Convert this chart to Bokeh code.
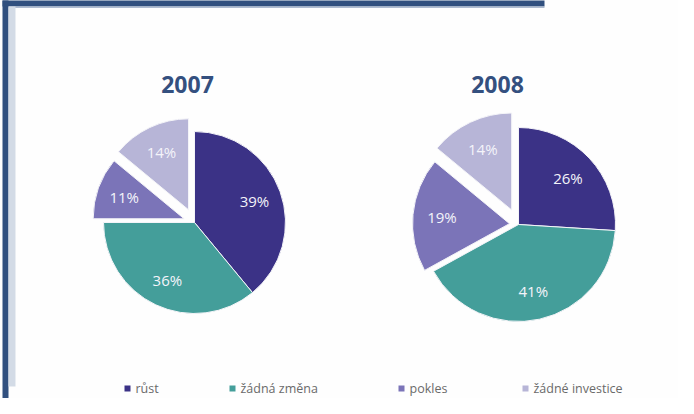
import numpy as np
from bokeh.plotting import figure
from bokeh.models import Range1d, ColumnDataSource
from bokeh.embed import file_html
from bokeh.resources import INLINE
from bokeh.core.properties import value

# ---- data ----
years = ["2007", "2008"]
categories = ["růst", "žádná změna", "pokles", "žádné investice"]
shares_2007 = [39, 36, 11, 14]
shares_2008 = [26, 41, 19, 14]
colors = ["#3b3286", "#449e9a", "#7b74b8", "#b7b5d7"]

# ---- layout (reference pixel coordinates) ----
W, H = 678, 398
pie_centers = [(202, 230), (526, 232)]
pie_radii = [91, 97]
pie_explode = [[0, 0, 11, 14], [0, 0, 9, 16]]
title_x = [195, 505]
title_y = 92
legend_x = [135, 240, 409, 533]
legend_y = 396
DARK = "#31507f"
LIGHT = "#d3dbe6"


def Y(y):
    return 414 - y


p = figure(width=W, height=H, x_range=Range1d(8, 8 + W), y_range=Range1d(8, 8 + H),
           output_backend="svg", toolbar_location=None, min_border=0)
p.axis.visible = False
p.grid.visible = False
p.outline_line_color = None
p.background_fill_color = "#fefefe"
p.border_fill_color = "#fefefe"

# frame decoration
p.quad(left=[10], right=[552], bottom=[Y(14)], top=[Y(7)], fill_color=DARK, line_color=None)
p.quad(left=[16], right=[552], bottom=[Y(15.5)], top=[Y(14)], fill_color="#aebbd0", line_color=None)
p.quad(left=[10], right=[16], bottom=[Y(414)], top=[Y(7)], fill_color=DARK, line_color=None)
p.quad(left=[16], right=[23], bottom=[Y(394)], top=[Y(14)], fill_color=LIGHT, line_color=None)

for k, shares in enumerate([shares_2007, shares_2008]):
    cx, cy = pie_centers[k]
    r = pie_radii[k]
    vals = np.array(shares, dtype=float)
    frac = vals / vals.sum()
    ends = np.cumsum(frac) * 360.0
    starts = ends - frac * 360.0
    mids = (starts + ends) / 2.0
    d = np.array(pie_explode[k], dtype=float)
    sx = cx + d * np.sin(np.radians(mids))
    sy = Y(cy) + d * np.cos(np.radians(mids))
    src = ColumnDataSource(dict(
        x=sx, y=sy,
        start=np.radians(90 - ends), end=np.radians(90 - starts),
        color=colors,
        lx=sx + 0.7 * r * np.sin(np.radians(mids)),
        ly=sy + 0.7 * r * np.cos(np.radians(mids)),
        label=[f"{v:.0f}%" for v in vals],
    ))
    p.wedge(x="x", y="y", radius=r, start_angle="start", end_angle="end",
            fill_color="color", line_color="#f4f4f8", line_width=1, source=src)
    p.text(x="lx", y="ly", text="label", source=src, text_color="#f4f4fa",
           text_font=value("Open Sans"), text_font_size="15px",
           text_align="center", text_baseline="middle")
    p.text(x=[title_x[k]], y=[Y(title_y)], text=[years[k]], text_color="#34507f",
           text_font=value("Open Sans"), text_font_size="23px", text_font_style="bold",
           text_align="center", text_baseline="middle")

# legend
p.scatter(x=legend_x, y=[Y(legend_y)] * 4, marker="square", size=6,
          fill_color=colors, line_color=None)
p.text(x=[x + 8 for x in legend_x], y=[Y(legend_y)] * 4, text=categories,
       text_color="#6a6a6a", text_font=value("Open Sans"), text_font_size="12.5px",
       text_align="left", text_baseline="middle")

open("out.html", "w").write(file_html(p, INLINE))
